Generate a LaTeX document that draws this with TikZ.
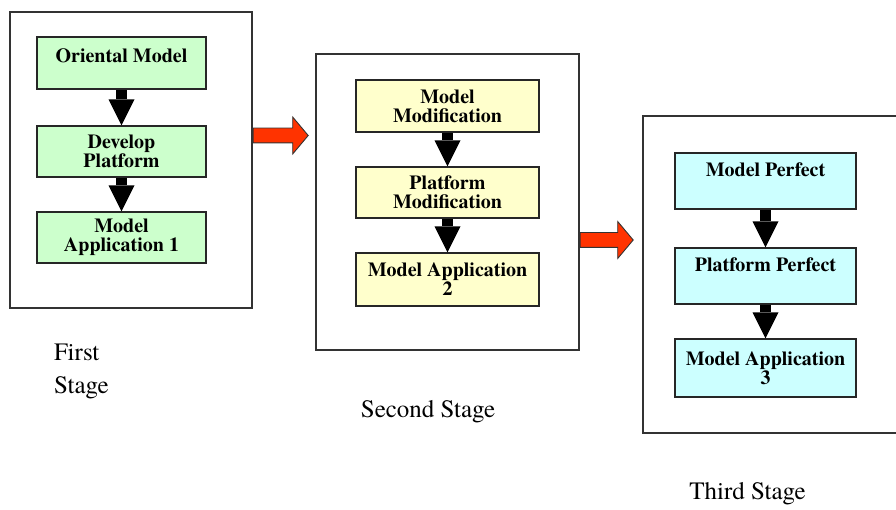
\documentclass[tikz,border=0pt]{standalone}
\usepackage{fontspec}
\setmainfont{TeX Gyre Termes}
\usetikzlibrary{shapes, arrows.meta, positioning}
\definecolor{greenbox}{HTML}{CCFFCC}
\definecolor{yellowbox}{HTML}{FFFFCC}
\definecolor{cyanbox}{HTML}{CCFFFF}
\definecolor{arrowred}{HTML}{FF3300}
\tikzstyle{stagebox} = [rectangle, draw=black!80, line width=1.5pt, fill=white]
\tikzstyle{stepbox} = [rectangle, draw=black!85, line width=1.2pt, align=center, inner sep=1pt, font=\fontsize{20}{19}\selectfont\bfseries]
\tikzstyle{topline} = [text height=14pt, text depth=22pt]
\tikzstyle{downarrow} = [line width=11pt, shorten <=0.7pt, -{Triangle[width=26pt, length=26pt, line width=0pt]}]
\tikzstyle{redarrow} = [single arrow, draw=black!80, line width=0.9pt, fill=arrowred, inner sep=0pt, inner ysep=7pt, text height=0pt, text depth=0pt, single arrow head extend=11pt, single arrow tip angle=100]
\tikzstyle{stagelabel} = [inner sep=0pt, font=\fontsize{25}{33}\selectfont]

\begin{document}
\begin{tikzpicture}[x=1pt, y=-1pt]

        \clip (0, 0) rectangle (896, 510);

        % stage frames
        \node[stagebox, minimum width=242pt, minimum height=296pt] at (131, 160) (first) {};
        \node[stagebox, minimum width=263pt, minimum height=296pt] at (447.5, 202) (second) {};
        \node[stagebox, minimum width=262pt, minimum height=317pt] at (774, 274.5) (third) {};

        % first stage
        \node[stepbox, fill=greenbox, minimum width=169pt, minimum height=52pt, text height=14pt, text depth=14pt] at (121.5, 63) (oriental) {Oriental Model};
        \node[stepbox, fill=greenbox, minimum width=169pt, minimum height=51pt] at (121.5, 151.5) (develop) {Develop\\Platform};
        \node[stepbox, fill=greenbox, minimum width=169pt, minimum height=51pt] at (121.5, 237.5) (appone) {Model\\Application 1};

        % second stage
        \node[stepbox, fill=yellowbox, minimum width=183pt, minimum height=52pt] at (447.5, 106) (modelmod) {Model\\Modification};
        \node[stepbox, fill=yellowbox, minimum width=183pt, minimum height=51pt] at (447.5, 192.5) (platmod) {Platform\\Modification};
        \node[stepbox, fill=yellowbox, minimum width=183pt, minimum height=53pt] at (447.5, 279.5) (apptwo) {Model Application\\2};

        % third stage
        \node[stepbox, topline, fill=cyanbox, minimum width=181pt, minimum height=56pt] at (765.5, 181) (modelperf) {Model Perfect};
        \node[stepbox, topline, fill=cyanbox, minimum width=181pt, minimum height=56pt] at (765.5, 276) (platperf) {Platform Perfect};
        \node[stepbox, fill=cyanbox, minimum width=181pt, minimum height=58pt] at (765.5, 368) (appthree) {Model Application\\3};

        \draw[downarrow] (oriental.south) -- (develop.north);
        \draw[downarrow] (develop.south) -- (appone.north);
        \draw[downarrow] (modelmod.south) -- (platmod.north);
        \draw[downarrow] (platmod.south) -- (apptwo.north);
        \draw[downarrow] (modelperf.south) -- (platperf.north);
        \draw[downarrow] (platperf.south) -- (appthree.north);

        % between stages
        \node[redarrow, minimum height=55pt, anchor=tail] at (first.east |- 0, 135.5) (tosecond) {};
        \node[redarrow, minimum height=53pt, anchor=tail] at (second.east |- 0, 240) (tothird) {};

        \node[stagelabel, anchor=west, align=left] at (54, 371) (firstlabel) {First\\Stage};
        \node[stagelabel, anchor=base] at (428, 417) (secondlabel) {Second Stage};
        \node[stagelabel, anchor=base] at (747.5, 499.5) (thirdlabel) {Third Stage};

    \end{tikzpicture}
\end{document}
